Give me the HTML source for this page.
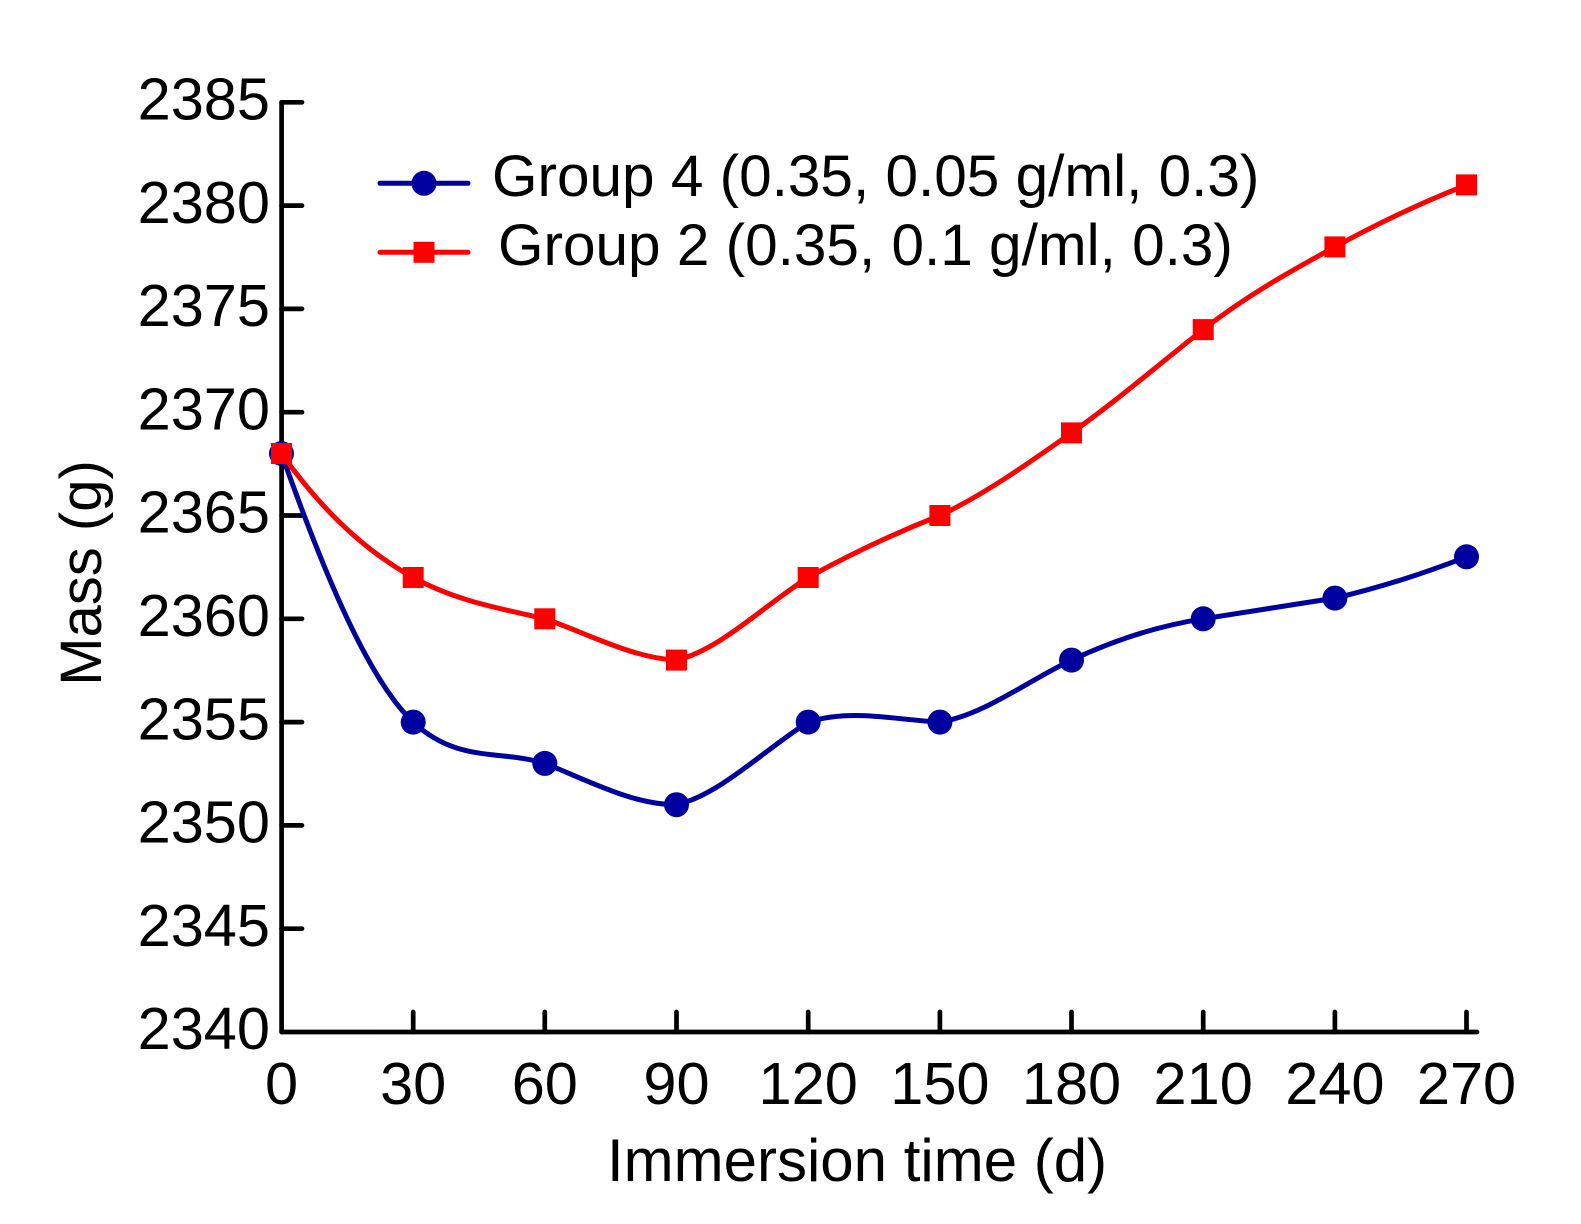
<!DOCTYPE html>
<html>
<head>
<meta charset="utf-8">
<style>
  html, body { margin: 0; padding: 0; background: #ffffff; }
  svg { display: block; }
  text { font-family: "Liberation Sans", Arial, sans-serif; fill: #000; }
</style>
</head>
<body>
<svg width="1581" height="1224" viewBox="0 0 1581 1224" xmlns="http://www.w3.org/2000/svg">
  <rect width="1581" height="1224" fill="#ffffff"/>

  <!-- Axes -->
  <g stroke="#000" stroke-width="4.7" fill="none" stroke-linecap="round">
    <line x1="281.6" y1="102.3" x2="281.6" y2="1032"/>
    <line x1="281.6" y1="1032" x2="1477" y2="1032"/>
    <!-- y ticks -->
    <line x1="281.6" y1="102.3" x2="302" y2="102.3"/>
    <line x1="281.6" y1="205.6" x2="302" y2="205.6"/>
    <line x1="281.6" y1="308.9" x2="302" y2="308.9"/>
    <line x1="281.6" y1="412.2" x2="302" y2="412.2"/>
    <line x1="281.6" y1="515.5" x2="302" y2="515.5"/>
    <line x1="281.6" y1="618.8" x2="302" y2="618.8"/>
    <line x1="281.6" y1="722.1" x2="302" y2="722.1"/>
    <line x1="281.6" y1="825.4" x2="302" y2="825.4"/>
    <line x1="281.6" y1="928.7" x2="302" y2="928.7"/>
    <!-- x ticks -->
    <line x1="413.2" y1="1032" x2="413.2" y2="1012"/>
    <line x1="544.8" y1="1032" x2="544.8" y2="1012"/>
    <line x1="676.5" y1="1032" x2="676.5" y2="1012"/>
    <line x1="808.2" y1="1032" x2="808.2" y2="1012"/>
    <line x1="939.9" y1="1032" x2="939.9" y2="1012"/>
    <line x1="1071.5" y1="1032" x2="1071.5" y2="1012"/>
    <line x1="1203.2" y1="1032" x2="1203.2" y2="1012"/>
    <line x1="1334.9" y1="1032" x2="1334.9" y2="1012"/>
    <line x1="1466.5" y1="1032" x2="1466.5" y2="1012"/>
  </g>

  <!-- Y tick labels -->
  <g font-size="59.5" text-anchor="end">
    <text x="270" y="119.5">2385</text>
    <text x="270" y="222.8">2380</text>
    <text x="270" y="326.1">2375</text>
    <text x="270" y="429.4">2370</text>
    <text x="270" y="532.7">2365</text>
    <text x="270" y="636">2360</text>
    <text x="270" y="739.3">2355</text>
    <text x="270" y="842.6">2350</text>
    <text x="270" y="945.9">2345</text>
    <text x="270" y="1049.2">2340</text>
  </g>

  <!-- X tick labels -->
  <g font-size="59.5" text-anchor="middle">
    <text x="281.6" y="1104">0</text>
    <text x="413.2" y="1104">30</text>
    <text x="544.8" y="1104">60</text>
    <text x="676.5" y="1104">90</text>
    <text x="808.2" y="1104">120</text>
    <text x="939.9" y="1104">150</text>
    <text x="1071.5" y="1104">180</text>
    <text x="1203.2" y="1104">210</text>
    <text x="1334.9" y="1104">240</text>
    <text x="1466.5" y="1104">270</text>
  </g>

  <!-- Axis titles -->
  <text x="607" y="1181" font-size="60">Immersion time (d)</text>
  <text transform="translate(101,573) rotate(-90)" font-size="58" text-anchor="middle">Mass (g)</text>

  <!-- Blue series curve (data coords) -->
  <g transform="translate(281.5,1032) scale(131.67,-20.66)">
    <path vector-effect="non-scaling-stroke" fill="none" stroke="#0000a0" stroke-width="5" stroke-linejoin="round" stroke-linecap="round"
      d="M0,28 C0.333,22 0.667,17 1,15
         C1.333,13 1.667,13.667 2,13
         C2.333,12.167 2.667,11 3,11
         C3.333,11.5 3.667,13.667 4,15
         C4.333,15.667 4.667,15.1 5,15
         C5.333,15.333 5.667,17 6,18
         C6.333,19 6.667,19.667 7,20
         C7.333,20.333 7.667,20.667 8,21
         C8.333,21.5 8.667,22.167 9,23"/>
  </g>
  <!-- Blue markers -->
  <g fill="#0000a0">
    <circle cx="281.5" cy="453.5" r="12.5"/>
    <circle cx="413.2" cy="722.1" r="12.5"/>
    <circle cx="544.8" cy="763.4" r="12.5"/>
    <circle cx="676.5" cy="804.7" r="12.5"/>
    <circle cx="808.2" cy="722.1" r="12.5"/>
    <circle cx="939.9" cy="722.1" r="12.5"/>
    <circle cx="1071.5" cy="660.1" r="12.5"/>
    <circle cx="1203.2" cy="618.8" r="12.5"/>
    <circle cx="1334.9" cy="598.1" r="12.5"/>
    <circle cx="1466.5" cy="556.8" r="12.5"/>
  </g>

  <!-- Red series curve (data coords) -->
  <g transform="translate(281.5,1032) scale(131.67,-20.66)">
    <path vector-effect="non-scaling-stroke" fill="none" stroke="#ff0000" stroke-width="5" stroke-linejoin="round" stroke-linecap="round"
      d="M0,28 C0.333,25 0.667,23.167 1,22
         C1.333,20.833 1.667,20.5 2,20
         C2.333,19.267 2.667,18.1 3,18
         C3.333,18.5 3.667,20.667 4,22
         C4.333,23.167 4.667,24.167 5,25
         C5.333,26 5.667,27.5 6,29
         C6.333,30.5 6.667,32.333 7,34
         C7.333,35.667 7.667,36.833 8,38
         C8.333,39.167 8.667,40.167 9,41"/>
  </g>
  <!-- Red markers -->
  <g fill="#ff0000">
    <rect x="271" y="443" width="21" height="21"/>
    <rect x="402.7" y="567" width="21" height="21"/>
    <rect x="534.3" y="608.3" width="21" height="21"/>
    <rect x="666" y="649.6" width="21" height="21"/>
    <rect x="797.7" y="567" width="21" height="21"/>
    <rect x="929.4" y="505" width="21" height="21"/>
    <rect x="1061" y="422.4" width="21" height="21"/>
    <rect x="1192.7" y="319.1" width="21" height="21"/>
    <rect x="1324.4" y="236.4" width="21" height="21"/>
    <rect x="1456" y="174.4" width="21" height="21"/>
  </g>

  <!-- Legend -->
  <line x1="380" y1="183.3" x2="468" y2="183.3" stroke="#0000a0" stroke-width="5" stroke-linecap="round"/>
  <circle cx="424" cy="183.3" r="12.5" fill="#0000a0"/>
  <text x="492" y="196" font-size="58.5">Group 4 (0.35, 0.05 g/ml, 0.3)</text>

  <line x1="380" y1="252.3" x2="468" y2="252.3" stroke="#ff0000" stroke-width="5" stroke-linecap="round"/>
  <rect x="413.5" y="241.8" width="21" height="21" fill="#ff0000"/>
  <text x="498" y="265" font-size="58.5">Group 2 (0.35, 0.1 g/ml, 0.3)</text>
</svg>
</body>
</html>
